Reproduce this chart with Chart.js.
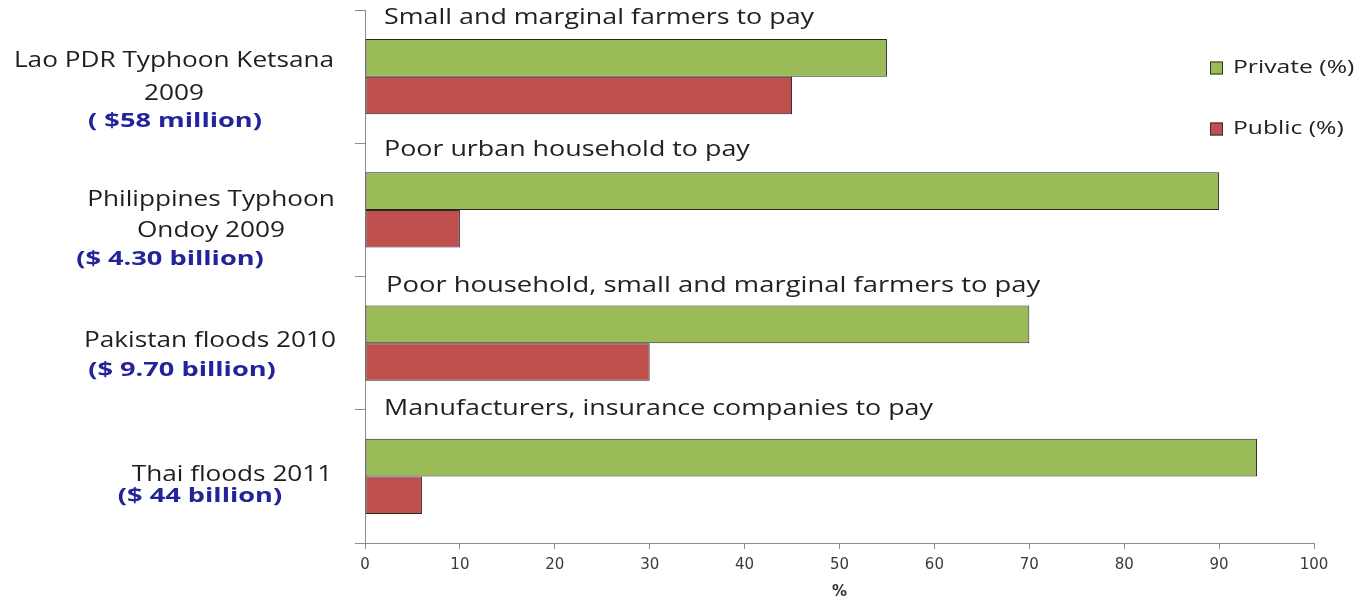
<!DOCTYPE html>
<html>
<head>
<meta charset="utf-8">
<script src="https://cdn.jsdelivr.net/npm/chart.js@4.4.1/dist/chart.umd.min.js"></script>
<style>
  html, body { margin: 0; padding: 0; background: #fff; }
  #wrap { width: 1364px; height: 603px; }
</style>
</head>
<body>
<div id="wrap"><canvas id="lossChart" width="1364" height="603"></canvas></div>
<script>
// data
const events = ['Lao PDR Typhoon Ketsana 2009', 'Philippines Typhoon Ondoy 2009', 'Pakistan floods 2010', 'Thai floods 2011'];
const eventLines = [['Lao PDR Typhoon Ketsana', '2009'], ['Philippines Typhoon', 'Ondoy 2009'], ['Pakistan floods 2010'], ['Thai floods 2011']];
const eventCosts = ['( $58 million)', '($ 4.30 billion)', '($ 9.70 billion)', '($ 44 billion)'];
const whoPays = ['Small and marginal farmers to pay', 'Poor urban household to pay', 'Poor household, small and marginal farmers to pay', 'Manufacturers, insurance companies to pay'];
const privateShare = [55, 90, 70, 94];
const publicShare = [45, 10, 30, 6];
const xTicks = [0, 10, 20, 30, 40, 50, 60, 70, 80, 90, 100];

// label placement: x offset from the y axis, y offset from the category centre
const nameSpots = [
  [[-191, -16], [-191, 17]],
  [[-154, -10], [-154, 21]],
  [[-155, -2]],
  [[-133, -2]]
];
const costSpots = [[-190, 45], [-195, 49], [-183, 27], [-165, 20]];
const paySpots = [[19, -59], [19, -60], [21, -57], [19, -68]];
const payStretch = [1.22, 1.22, 1.245, 1.22];

// the original font is wider than anything installed, so stretch it a bit
function wideText(ctx, text, x, y, align, sx) {
  ctx.save();
  ctx.translate(x, y);
  ctx.scale(sx, 1);
  ctx.textAlign = align;
  ctx.fillText(text, 0, 0);
  ctx.restore();
}

const sideLabels = {
  id: 'sideLabels',
  afterDraw(chart) {
    const ctx = chart.ctx;
    const y = chart.scales.y;
    const left = chart.chartArea.left;
    ctx.save();
    ctx.textBaseline = 'middle';
    events.forEach((e, i) => {
      const cy = y.getPixelForValue(i);
      ctx.fillStyle = '#1e1e1e';
      ctx.font = '22px "Open Sans"';
      eventLines[i].forEach((line, j) => {
        wideText(ctx, line, left + nameSpots[i][j][0], cy + nameSpots[i][j][1], 'center', 1.19);
      });
      ctx.fillStyle = '#23239a';
      ctx.font = 'bold 20px "Open Sans"';
      wideText(ctx, eventCosts[i], left + costSpots[i][0], cy + costSpots[i][1], 'center', 1.36);

      ctx.fillStyle = '#222';
      ctx.font = '22px "Open Sans"';
      wideText(ctx, whoPays[i], left + paySpots[i][0], cy + paySpots[i][1], 'left', payStretch[i]);
    });

    // legend
    chart.data.datasets.forEach((ds, k) => {
      const ly = 68 + k * 61;
      ctx.fillStyle = ds.backgroundColor;
      ctx.fillRect(1210, ly - 6.5, 13, 13);
      ctx.strokeStyle = '#333';
      ctx.lineWidth = 1;
      ctx.strokeRect(1210.5, ly - 6, 12, 12);
      ctx.fillStyle = '#222';
      ctx.font = '19px "Open Sans"';
      wideText(ctx, ds.label, 1233, ly, 'left', 1.3);
    });
    ctx.restore();
  }
};

const ctx = document.getElementById('lossChart').getContext('2d');
const lossChart = new Chart(ctx, {
  type: 'bar',
  data: {
    labels: events,
    datasets: [
      {
        label: 'Private (%)',
        data: privateShare,
        backgroundColor: '#9BBB59',
        borderColor: '#262626',
        borderWidth: 1,
        borderSkipped: false
      },
      {
        label: 'Public (%)',
        data: publicShare,
        backgroundColor: '#C0504D',
        borderColor: '#262626',
        borderWidth: 1,
        borderSkipped: false
      }
    ]
  },
  options: {
    indexAxis: 'y',
    responsive: false,
    animation: false,
    categoryPercentage: 0.565,
    barPercentage: 1,
    layout: {
      padding: { left: 355, right: 50, top: 10, bottom: 0 }
    },
    plugins: {
      legend: { display: false },
      tooltip: { enabled: false }
    },
    scales: {
      x: {
        min: 0,
        max: 100,
        afterBuildTicks(scale) {
          scale.ticks = xTicks.map(v => ({ value: v }));
        },
        afterFit(scale) { scale.height = 60; },
        grid: {
          drawOnChartArea: false,
          tickLength: 6,
          color: '#8c8c8c'
        },
        border: { color: '#8c8c8c' },
        ticks: {
          color: '#3a3a3a',
          padding: 7,
          font: { family: 'DejaVu Sans', size: 15 }
        },
        title: {
          display: true,
          text: '%',
          color: '#333',
          font: { family: 'DejaVu Sans', size: 15, weight: 'bold' },
          padding: { top: 2, bottom: 2 }
        }
      },
      y: {
        afterFit(scale) { scale.width = 10; },
        grid: {
          offset: true,
          drawOnChartArea: false,
          tickLength: 10,
          color: '#8c8c8c'
        },
        border: { color: '#8c8c8c' },
        ticks: { display: false }
      }
    }
  },
  plugins: [sideLabels]
});
</script>
</body>
</html>
